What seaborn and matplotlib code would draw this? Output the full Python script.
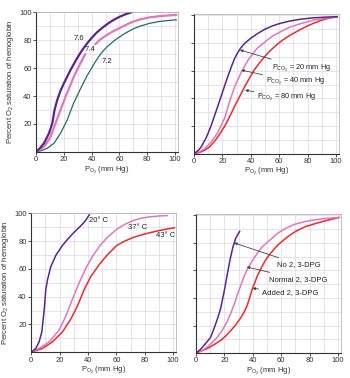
import pandas as pd
import matplotlib.pyplot as plt
import seaborn as sns

# pH panel (top left)
ph76_x = [0, 3, 5.7, 9.3, 11.7, 13.3, 15.2, 17.5, 20, 24.8, 29.5, 33, 36.7, 40, 43.8, 48, 52, 56, 60, 64, 69]
ph76_y = [0, 3, 6.2, 13.3, 20.5, 30, 37, 43.5, 49, 58.6, 67, 72.5, 77.6, 81.5, 85.5, 89, 92, 94.5, 96.6, 98.3, 100]
ph74a_x = [0, 3, 5.7, 8, 10.5, 14, 17.6, 21.2, 24.8, 27, 29.5, 32, 34.3, 35.5]
ph74a_y = [0, 1.8, 3.8, 6.8, 11, 20.5, 30, 39.5, 48, 53.5, 58.6, 63.5, 68, 70]
ph74b_x = [42.6, 45.7, 50, 54, 57.6, 62, 66, 69.5, 75, 81.4, 88, 95, 101]
ph74b_y = [77, 80, 83, 85.5, 87.3, 89.5, 91.5, 93, 94.8, 96.2, 97, 97.6, 98]
ph72_x = [0, 4, 8, 12.9, 17.6, 22.4, 27, 31.9, 36.7, 40, 43, 46, 49, 52, 55.6, 59, 63, 69.5, 75, 81.4, 88, 95, 101]
ph72_y = [0, 1, 2.6, 6.2, 13.3, 22.8, 34.8, 45, 54.5, 60, 65, 69.5, 73, 76, 79, 81.5, 84.2, 87.8, 90, 91.9, 93.2, 94, 94.5]

# PCO2 panel (top right)
co20_x = [0, 3, 5, 8.6, 12, 15.7, 19.3, 22.9, 26.4, 28.5, 30.5, 33, 36, 40, 45, 50, 55, 60, 67, 75, 84, 94, 101]
co20_y = [0, 2.5, 4.8, 11.5, 20, 31, 42, 53, 63, 68.5, 72.5, 76.5, 80, 83.5, 87, 90, 92.3, 94, 95.8, 97.2, 98.2, 98.8, 99]
co40_x = [0, 4, 7.4, 12, 16.9, 21.7, 25.2, 28.8, 33.6, 38.3, 44.3, 51.4, 55, 60.7, 67, 75, 84, 94, 101]
co40_y = [0, 1.6, 3.6, 8.3, 15.5, 26, 38, 48.8, 59.5, 68, 76, 82, 84.8, 88, 91.3, 94, 96.5, 98.2, 99]
co80_x = [0, 4, 7.4, 11, 14.5, 18, 21.7, 25, 28.5, 32, 35.5, 39, 42.4, 46.4, 50, 54, 58, 62, 66, 70, 75, 80, 85, 90, 95, 101]
co80_y = [0, 1, 2.5, 5, 9, 14, 20, 26.5, 34, 41, 48, 54.5, 60.5, 66, 70.5, 74.8, 78.5, 81.8, 84.6, 87, 89.8, 92.4, 94.6, 96.5, 98, 99]

# temperature panel (bottom left)
t20_x = [0, 3.3, 5.6, 7.5, 8.5, 9.4, 10.3, 11.5, 13.8, 17.4, 22, 25.5, 29, 32.5, 36, 38.5, 41]
t20_y = [0, 2.8, 7.5, 14.6, 24, 33, 45, 52, 61.5, 69.7, 76.8, 81, 85, 88.5, 92, 95, 99]
t37_x = [0, 5.6, 12.7, 19.7, 24.4, 29, 33.8, 38.5, 43.2, 48.6, 54, 60.3, 66, 72, 78, 83.8, 90, 96]
t37_y = [0, 2.8, 7.5, 16, 26, 38, 50, 60.5, 69, 77, 83, 88.5, 92, 94.8, 96.5, 97.4, 98, 98.3]
t43_x = [0, 8, 15, 22, 28, 32.6, 37.3, 42, 47.9, 54, 60.3, 66, 72, 78, 83.8, 90, 96, 101]
t43_y = [0, 2.8, 7.5, 14.6, 24, 33.3, 45, 54.5, 63, 70.5, 76.8, 80, 82.6, 84.5, 86, 87.5, 88.7, 89.5]

# 2,3-DPG panel (bottom right)
dpg0_x = [0, 3, 5.6, 8, 10.3, 12, 13.8, 15.6, 17.4, 19.7, 22, 24, 26, 28, 30.8]
dpg0_y = [0, 2.5, 5.6, 8.5, 11.5, 16, 21, 26.5, 32.6, 44, 57, 68, 77, 83.5, 88.5]
dpgn_x = [0, 4, 8, 11.5, 15, 18.5, 22, 24.5, 26.8, 29, 31.5, 34, 36.2, 39.5, 43.2, 46.5, 51.4, 58.2, 64, 70, 77, 84, 92, 101]
dpgn_y = [0, 1.5, 4.5, 7.8, 11.5, 16.5, 23, 29, 35, 42, 49, 56, 61, 67, 72.5, 77, 81.5, 87.5, 91, 93.7, 95.5, 96.8, 97.8, 98.5]
dpga_x = [0, 8, 12.5, 17.4, 21, 24.4, 28, 31.5, 34, 36.2, 38, 39.7, 41.5, 43.2, 46.5, 49, 51.4, 55, 58.2, 64, 70, 77, 84, 92, 101]
dpga_y = [0, 3.3, 6, 9.2, 12.5, 16.2, 20.5, 25.6, 30, 35, 41, 46.7, 51.5, 56, 63, 67.5, 71, 75.5, 79, 84, 88.3, 91.8, 94, 96.3, 98.5]

PURPLE = '#5a2490'
PINK = '#e276bd'
RED = '#f02828'
TEAL = '#1e6e5e'

sns.set_theme(style="white")
plt.rcParams['font.family'] = ['Liberation Sans', 'DejaVu Sans']
plt.rcParams['mathtext.default'] = 'regular'

fig = plt.figure(figsize=(3.5, 3.78), dpi=100)
ax_tl = fig.add_axes([0.103, 0.598, 0.405, 0.370])
ax_tr = fig.add_axes([0.554, 0.593, 0.414, 0.370])
ax_bl = fig.add_axes([0.089, 0.068, 0.414, 0.368])
ax_br = fig.add_axes([0.560, 0.066, 0.414, 0.368])

xlab = 'P$_{O_2}$ (mm Hg)'
ylab = 'Percent O$_2$ saturation of hemoglobin'


def style(ax, ylabels, ytop):
    ax.set_xlim(0, 102)
    ax.set_ylim(0, ytop)
    ax.set_xticks(range(0, 101, 10), minor=True)
    ax.set_yticks(range(0, 101, 10), minor=True)
    ax.set_xticks([0, 20, 40, 60, 80, 100])
    ax.set_yticks([20, 40, 60, 80, 100])
    ax.grid(True, which='both', color='#dcd8e8', lw=0.5)
    ax.tick_params(which='major', labelsize=5.5, length=2, width=0.6, pad=1.2,
                   colors='#333333', bottom=True, left=True)
    ax.tick_params(which='minor', length=0)
    if not ylabels:
        ax.set_yticklabels([])
    ax.set_xlabel(xlab, fontsize=5.5, labelpad=0.8, color='#333333')
    for s in ['left', 'bottom']:
        ax.spines[s].set_color('#333333')
        ax.spines[s].set_linewidth(0.8)
    for s in ['top', 'right']:
        ax.spines[s].set_color('#aaaaaa')
        ax.spines[s].set_linewidth(0.5)


def curve(ax, x, y, color, lw):
    sns.lineplot(x=x, y=y, ax=ax, color=color, lw=lw, sort=False)


# top left: pH
curve(ax_tl, ph72_x, ph72_y, TEAL, 0.9)
curve(ax_tl, ph74a_x, ph74a_y, PINK, 1.6)
curve(ax_tl, ph74b_x, ph74b_y, PINK, 1.6)
curve(ax_tl, ph76_x, ph76_y, PURPLE, 1.6)
style(ax_tl, True, 100)
ax_tl.set_ylabel(ylab, fontsize=5.5, labelpad=2, color='#333333')
ax_tl.text(27, 81, '7.6', fontsize=5.5, color='#222222', va='center')
ax_tl.text(35, 73, '7.4', fontsize=5.5, color='#222222', va='center')
ax_tl.text(47, 64.5, '7.2', fontsize=5.5, color='#222222', va='center')

# top right: PCO2
curve(ax_tr, co80_x, co80_y, RED, 1.1)
curve(ax_tr, co40_x, co40_y, PINK, 1.1)
curve(ax_tr, co20_x, co20_y, PURPLE, 1.1)
style(ax_tr, False, 101)
arrow = dict(arrowstyle='-|>', color='#444444', lw=0.6, mutation_scale=4, shrinkA=0, shrinkB=0)
for txt, tx, ty, px, py in [('P$_{CO_2}$ = 20 mm Hg', 54.8, 62, 32.4, 75),
                            ('P$_{CO_2}$ = 40 mm Hg', 50.7, 52, 33.3, 60.5),
                            ('P$_{CO_2}$ = 80 mm Hg', 44.5, 41, 36, 46)]:
    ax_tr.annotate(txt, xy=(px, py), xytext=(tx, ty), fontsize=5.3, color='#222222',
                   va='center', arrowprops=arrow)

# bottom left: temperature
curve(ax_bl, t43_x, t43_y, RED, 1.1)
curve(ax_bl, t37_x, t37_y, PINK, 1.1)
curve(ax_bl, t20_x, t20_y, PURPLE, 1.1)
style(ax_bl, True, 100)
ax_bl.set_ylabel(ylab, fontsize=5.5, labelpad=2, color='#333333')
ax_bl.text(41, 94.5, '20° C', fontsize=5.5, color='#222222', va='center')
ax_bl.text(68, 89.6, '37° C', fontsize=5.5, color='#222222', va='center')
ax_bl.text(88, 83.8, '43° C', fontsize=5.5, color='#222222', va='center')

# bottom right: 2,3-DPG
curve(ax_br, dpga_x, dpga_y, RED, 1.1)
curve(ax_br, dpgn_x, dpgn_y, PINK, 1.1)
curve(ax_br, dpg0_x, dpg0_y, PURPLE, 1.1)
style(ax_br, False, 101)
for txt, tx, ty, px, py in [('No 2, 3-DPG', 57, 64.3, 26.8, 80),
                            ('Normal 2, 3-DPG', 51.6, 53.7, 35.7, 62.5),
                            ('Added 2, 3-DPG', 46.3, 43.9, 39.7, 47)]:
    ax_br.annotate(txt, xy=(px, py), xytext=(tx, ty), fontsize=5.5, color='#222222',
                   va='center', arrowprops=arrow)

plt.savefig('out.png', dpi=100)
plt.close()
